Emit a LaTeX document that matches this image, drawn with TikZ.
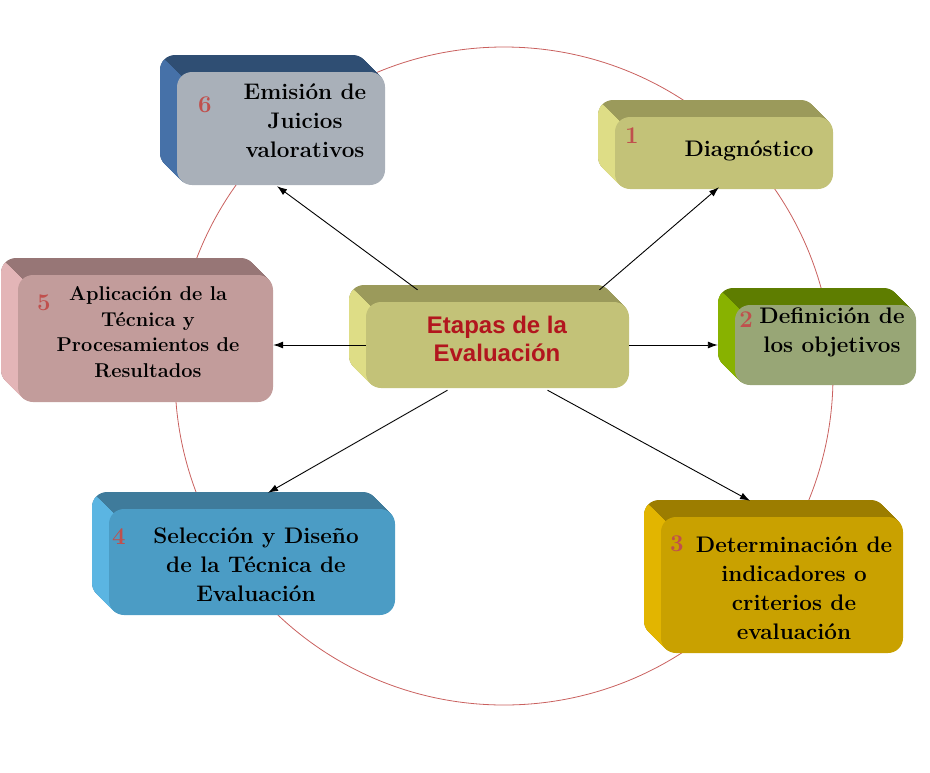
\documentclass[tikz,border=0pt]{standalone}
\usepackage{fontspec}
\newfontfamily\etapasfont{Liberation Sans}
\usepackage{tikz}
\usetikzlibrary{arrows.meta, positioning, calc}

\definecolor{numrojo}{HTML}{C0504D}
\definecolor{etaparojo}{HTML}{B2161E}
\definecolor{circrojo}{HTML}{C9605E}
\definecolor{olivo}{HTML}{C3C278}
\definecolor{olivotop}{HTML}{9B9A5B}
\definecolor{olivolado}{HTML}{DEDD86}
\definecolor{grisazul}{HTML}{A9B0B9}
\definecolor{grisazultop}{HTML}{2F4E73}
\definecolor{grisazullado}{HTML}{4671A8}
\definecolor{verde}{HTML}{98A676}
\definecolor{verdetop}{HTML}{5E7D00}
\definecolor{verdelado}{HTML}{88B200}
\definecolor{rosa}{HTML}{C29C9B}
\definecolor{rosatop}{HTML}{977676}
\definecolor{rosalado}{HTML}{E3B5B7}
\definecolor{azul}{HTML}{4B9CC5}
\definecolor{azultop}{HTML}{3F7B9B}
\definecolor{azullado}{HTML}{5BB5E2}
\definecolor{oro}{HTML}{C9A100}
\definecolor{orotop}{HTML}{9C7D00}
\definecolor{orolado}{HTML}{E2B500}

\begin{document}
\begin{tikzpicture}[x=1pt, y=-1pt,
    caja/.style={rounded corners=15pt, inner sep=0pt},
    texto/.style={align=center, font=\bfseries\fontsize{22.5}{29}\selectfont},
    numero/.style={text=numrojo, font=\bfseries\fontsize{24}{24}\selectfont},
    flecha/.style={-{Latex[length=10pt,width=7pt]}, line width=0.9pt}]
  \useasboundingbox (0,0) rectangle (930,772);
  \draw[circrojo, line width=0.8pt] (504,376) circle[radius=329];
  % fondo 3D de las cajas
  \foreach \xa/\ya/\xb/\yb/\ctop/\cside in {177/72/385/185/grisazultop/grisazullado,
      615/117/833/189/olivotop/olivolado, 735/305/916/385/verdetop/verdelado,
      366/302/629/388/olivotop/olivolado, 18/275/273/402/rosatop/rosalado,
      109/509/395/615/azultop/azullado, 661/517/903/653/orotop/orolado}{
    \foreach \d in {17,...,1}
      \fill[\ctop, rounded corners=15pt] (\xa-\d,\ya-\d) rectangle (\xb-\d,\yb-\d);
    \begin{scope}
      \clip (\xa-120,\ya-120) -- (\xa+120,\ya+120) -- (\xa-120,\yb+120) -- cycle;
      \foreach \d in {17,...,1}
        \fill[\cside, rounded corners=15pt] (\xa-\d,\ya-\d) rectangle (\xb-\d,\yb-\d);
    \end{scope}
  }
  % caras frontales
  \node[caja, fill=grisazul, minimum width=208pt, minimum height=113pt] (emision) at (281,128.5) {};
  \node[caja, fill=olivo, minimum width=218pt, minimum height=72pt] (diag) at (724,153) {};
  \node[caja, fill=verde, minimum width=181pt, minimum height=80pt] (defin) at (825.5,345) {};
  \node[caja, fill=olivo, minimum width=263pt, minimum height=86pt] (etapas) at (497.5,345) {};
  \node[caja, fill=rosa, minimum width=255pt, minimum height=127pt] (aplic) at (145.5,338.5) {};
  \node[caja, fill=azul, minimum width=286pt, minimum height=106pt] (selec) at (252,562) {};
  \node[caja, fill=oro, minimum width=242pt, minimum height=136pt] (determ) at (782,585) {};
  % textos
  \node[texto] (emisionTxt) at (305,121) {Emisión de\\Juicios\\valorativos};
  \node[texto] (diagTxt) at (749,151) {Diagnóstico};
  \node[texto] (definTxt) at (832,332) {Definición de\\los objetivos};
  \node[align=center, text=etaparojo, font=\etapasfont\bfseries\fontsize{24}{28}\selectfont]
    (etapasTxt) at (497,339) {Etapas de la\\Evaluación};
  \node[texto, font=\bfseries\fontsize{20}{25.7}\selectfont] (aplicTxt) at (148,332)
    {Aplicación de la\\Técnica y\\Procesamientos de\\Resultados};
  \node[texto] (selecTxt) at (256,565) {Selección y Diseño\\de la Técnica de\\Evaluación};
  \node[texto] (determTxt) at (794,588) {Determinación de\\indicadores o\\criterios de\\evaluación};
  % numeros
  \node[numero] (n6) at (205,105) {6};
  \node[numero] (n1) at (632,136) {1};
  \node[numero] (n2) at (746,320) {2};
  \node[numero] (n5) at (44,303) {5};
  \node[numero] (n4) at (119,537) {4};
  \node[numero] (n3) at (677,544) {3};
  % flechas
  \draw[flecha] ($(etapas.north)+(-80,-12)$) -- ($(emision.south)+(-4,1)$);
  \draw[flecha] ($(etapas.north)+(102,-12)$) -- ($(diag.south)+(-5,-2)$);
  \draw[flecha] (etapas.west) -- (etapas.west -| aplic.east);
  \draw[flecha] (etapas.east) -- ($(etapas.east -| defin.west)+(-17,0)$);
  \draw[flecha] ($(etapas.south)+(-50,2)$) -- ($(selec.north)+(16,-16)$);
  \draw[flecha] ($(etapas.south)+(50,2)$) -- ($(determ.north)+(-32,-16)$);
\end{tikzpicture}
\end{document}
